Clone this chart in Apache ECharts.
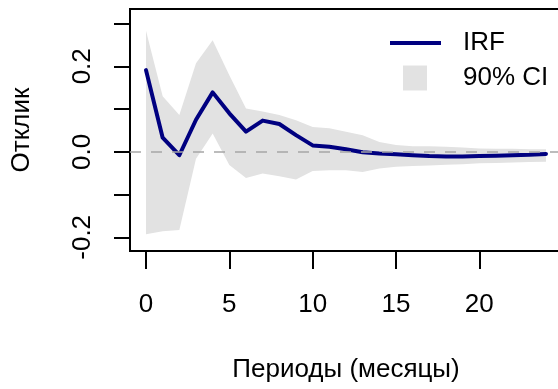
<!DOCTYPE html>
<html>
<head>
<meta charset="utf-8">
<script src="https://cdn.jsdelivr.net/npm/echarts@6/dist/echarts.min.js"></script>
<style>
html, body { margin: 0; padding: 0; background: #ffffff; }
#chart { width: 558px; height: 389px; }
</style>
</head>
<body>
<div id="chart"></div>
<script>
// ---- Data ----
const periods = [0, 1, 2, 3, 4, 5, 6, 7, 8, 9, 10, 11, 12, 13, 14, 15, 16, 17, 18, 19, 20, 21, 22, 23, 24];
const irf = [0.191, 0.033, -0.008, 0.075, 0.139, 0.090, 0.047, 0.073, 0.065, 0.039, 0.015, 0.012, 0.006, -0.001, -0.004, -0.006, -0.008, -0.010, -0.011, -0.011, -0.010, -0.009, -0.008, -0.007, -0.005];
const ciUpper = [0.283, 0.130, 0.086, 0.207, 0.261, 0.179, 0.101, 0.094, 0.086, 0.074, 0.058, 0.055, 0.047, 0.039, 0.023, 0.016, 0.013, 0.013, 0.012, 0.010, 0.008, 0.007, 0.007, 0.006, 0.006];
const ciLower = [-0.193, -0.186, -0.183, -0.016, 0.043, -0.031, -0.061, -0.051, -0.057, -0.065, -0.045, -0.043, -0.043, -0.047, -0.039, -0.035, -0.033, -0.032, -0.030, -0.029, -0.027, -0.026, -0.025, -0.024, -0.023];
const xTicks = [0, 5, 10, 15, 20];
const yTicks = [-0.2, -0.1, 0.0, 0.1, 0.2, 0.3];
const yLabels = [-0.2, 0.0, 0.2];
const xTitle = 'Периоды (месяцы)';
const yTitle = 'Отклик';
const irfName = 'IRF';
const ciName = '90% CI';

// ---- Build ----
const FONT = "'Liberation Sans', Arial, Helvetica, sans-serif";
const CI_COLOR = '#E2E2E2';
const irfData = periods.map((p, i) => [p, irf[i]]);
const ciData = periods.map((p, i) => [p, ciLower[i], ciUpper[i]]);

function renderBand(params, api) {
  if (params.dataIndex !== 0) return null;
  const pts = [];
  for (let i = 0; i < periods.length; i++) pts.push(api.coord([periods[i], ciUpper[i]]));
  for (let i = periods.length - 1; i >= 0; i--) pts.push(api.coord([periods[i], ciLower[i]]));
  return {
    type: 'polygon',
    shape: { points: pts },
    style: { fill: CI_COLOR, stroke: null },
    silent: true
  };
}

const chart = echarts.init(document.getElementById('chart'), null, { renderer: 'canvas' });
chart.setOption({
  animation: false,
  backgroundColor: '#ffffff',
  textStyle: { fontFamily: FONT },
  grid: {
    left: 130, top: 9, width: 432, height: 242,
    show: true, borderColor: '#000000', borderWidth: 2, backgroundColor: 'transparent',
    containLabel: false,
    outerBoundsMode: 'none'
  },
  legend: [
    {
      data: [{ name: irfName, icon: 'rect' }],
      left: 390, top: 30, padding: 0,
      itemWidth: 51, itemHeight: 4,
      selectedMode: false,
      textStyle: { fontSize: 26, color: '#000000', fontFamily: FONT, padding: [0, 0, 0, 17], lineHeight: 26 }
    },
    {
      data: [{ name: ciName, icon: 'rect' }],
      left: 403, top: 65, padding: 0,
      itemWidth: 24, itemHeight: 25,
      selectedMode: false,
      textStyle: { fontSize: 26, color: '#000000', fontFamily: FONT, padding: [0, 0, 0, 31], lineHeight: 26 }
    }
  ],
  xAxis: {
    type: 'value',
    min: -0.96, max: 24.96,
    name: xTitle,
    nameLocation: 'middle',
    nameGap: 106,
    nameTextStyle: { fontSize: 26, color: '#000000', fontFamily: FONT, lineHeight: 26 },
    axisLine: { show: false, onZero: false },
    splitLine: { show: false },
    axisTick: { show: true, inside: false, length: 18, customValues: xTicks, lineStyle: { color: '#000000', width: 2 } },
    axisLabel: { customValues: xTicks, margin: 41, fontSize: 26, color: '#000000', fontFamily: FONT, lineHeight: 26 }
  },
  yAxis: {
    type: 'value',
    min: -0.232, max: 0.334,
    name: yTitle,
    nameLocation: 'middle',
    nameGap: 95,
    nameRotate: 90,
    nameTextStyle: { fontSize: 26, color: '#000000', fontFamily: FONT, lineHeight: 26 },
    axisLine: { show: false, onZero: false },
    splitLine: { show: false },
    axisTick: { show: true, inside: false, length: 16, customValues: yTicks, lineStyle: { color: '#000000', width: 2 } },
    axisLabel: {
      customValues: yLabels, rotate: 90, margin: 34, fontSize: 26, color: '#000000', fontFamily: FONT, lineHeight: 26,
      formatter: v => v.toFixed(1)
    }
  },
  series: [
    {
      name: ciName, type: 'custom', data: ciData,
      renderItem: renderBand,
      itemStyle: { color: CI_COLOR },
      clip: true, silent: true,
      z: 1
    },
    {
      name: irfName, type: 'line', data: irfData,
      symbol: 'none', silent: true,
      itemStyle: { color: '#000080' },
      lineStyle: { color: '#000080', width: 4, join: 'round', cap: 'round' },
      markLine: {
        silent: true, symbol: 'none', label: { show: false },
        lineStyle: { color: '#A6A6A6', width: 1.6, type: [11, 10] },
        data: [{ yAxis: 0 }]
      },
      z: 3
    }
  ]
});
</script>
</body>
</html>
